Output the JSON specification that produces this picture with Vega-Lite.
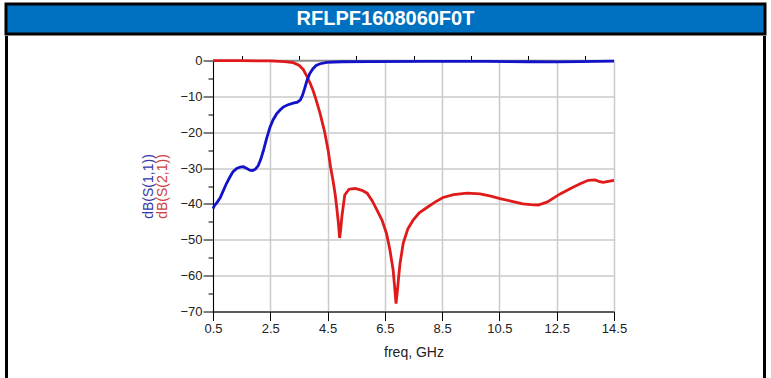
{
  "$schema": "https://vega.github.io/schema/vega-lite/v6.json",
  "padding": {"left": 4, "top": 2, "right": 0, "bottom": 0},
  "background": "white",
  "columns": 1,
  "spacing": 0,
  "align": "none",
  "config": {"view": {"stroke": null}, "font": "Liberation Sans"},
  "datasets": {
    "s21": [
      {"f": 0.5, "db": -0.05}, {"f": 1.0, "db": -0.05}, {"f": 1.5, "db": -0.05}, {"f": 2.0, "db": -0.08},
      {"f": 2.5, "db": -0.12}, {"f": 3.0, "db": -0.3}, {"f": 3.3, "db": -0.6}, {"f": 3.5, "db": -1.3},
      {"f": 3.65, "db": -2.5}, {"f": 3.78, "db": -4.4}, {"f": 3.9, "db": -6.5}, {"f": 4.0, "db": -8.5},
      {"f": 4.1, "db": -11}, {"f": 4.24, "db": -14.8}, {"f": 4.4, "db": -20}, {"f": 4.52, "db": -25},
      {"f": 4.6, "db": -29.5}, {"f": 4.69, "db": -33.5}, {"f": 4.76, "db": -37}, {"f": 4.82, "db": -41},
      {"f": 4.88, "db": -45.5}, {"f": 4.92, "db": -49.5}, {"f": 4.96, "db": -47}, {"f": 5.0, "db": -43.5},
      {"f": 5.1, "db": -37.5}, {"f": 5.25, "db": -35.9}, {"f": 5.46, "db": -35.7}, {"f": 5.7, "db": -36.2},
      {"f": 5.88, "db": -37}, {"f": 6.05, "db": -39}, {"f": 6.23, "db": -41.8}, {"f": 6.4, "db": -44.5},
      {"f": 6.56, "db": -48.3}, {"f": 6.68, "db": -53}, {"f": 6.79, "db": -58.5}, {"f": 6.85, "db": -64},
      {"f": 6.89, "db": -67.8}, {"f": 6.94, "db": -64}, {"f": 6.97, "db": -61.3}, {"f": 7.03, "db": -56.6},
      {"f": 7.14, "db": -51}, {"f": 7.3, "db": -47}, {"f": 7.48, "db": -44.6}, {"f": 7.7, "db": -42.5},
      {"f": 7.97, "db": -41}, {"f": 8.25, "db": -39.5}, {"f": 8.53, "db": -38.2}, {"f": 8.9, "db": -37.4},
      {"f": 9.37, "db": -37}, {"f": 9.82, "db": -37.2}, {"f": 10.2, "db": -37.8}, {"f": 10.52, "db": -38.5},
      {"f": 10.9, "db": -39.2}, {"f": 11.32, "db": -40}, {"f": 11.6, "db": -40.2}, {"f": 11.85, "db": -40.3},
      {"f": 12.16, "db": -39.5}, {"f": 12.4, "db": -38.3}, {"f": 12.62, "db": -37.2}, {"f": 13.0, "db": -35.6},
      {"f": 13.32, "db": -34.4}, {"f": 13.6, "db": -33.4}, {"f": 13.84, "db": -33.3}, {"f": 14.0, "db": -33.8},
      {"f": 14.12, "db": -34}, {"f": 14.3, "db": -33.7}, {"f": 14.5, "db": -33.4}
    ],
    "s11": [
      {"f": 0.5, "db": -41.3}, {"f": 0.55, "db": -40.5}, {"f": 0.65, "db": -39.5}, {"f": 0.75, "db": -38.3},
      {"f": 0.86, "db": -36.3}, {"f": 0.97, "db": -34.3}, {"f": 1.09, "db": -32.5}, {"f": 1.2, "db": -31},
      {"f": 1.33, "db": -30.1}, {"f": 1.45, "db": -29.7}, {"f": 1.56, "db": -29.6}, {"f": 1.68, "db": -30.1},
      {"f": 1.78, "db": -30.6}, {"f": 1.88, "db": -30.7}, {"f": 1.98, "db": -30.3}, {"f": 2.08, "db": -29.3},
      {"f": 2.17, "db": -27.5}, {"f": 2.26, "db": -25.1}, {"f": 2.37, "db": -21.8}, {"f": 2.49, "db": -18.6},
      {"f": 2.6, "db": -16.5}, {"f": 2.72, "db": -14.9}, {"f": 2.84, "db": -13.8}, {"f": 2.95, "db": -13},
      {"f": 3.1, "db": -12.4}, {"f": 3.3, "db": -11.9}, {"f": 3.45, "db": -11.6}, {"f": 3.55, "db": -11},
      {"f": 3.62, "db": -9.8}, {"f": 3.7, "db": -7.8}, {"f": 3.78, "db": -5.6}, {"f": 3.88, "db": -3.6},
      {"f": 3.99, "db": -2.3}, {"f": 4.1, "db": -1.4}, {"f": 4.24, "db": -0.9}, {"f": 4.48, "db": -0.5},
      {"f": 5.0, "db": -0.35}, {"f": 6.0, "db": -0.3}, {"f": 8.0, "db": -0.25}, {"f": 10.0, "db": -0.25},
      {"f": 11.5, "db": -0.35}, {"f": 12.5, "db": -0.4}, {"f": 13.3, "db": -0.3}, {"f": 14.5, "db": -0.2}
    ],
    "ref": [{"db": 0}],
    "blank": [{"a": 1}],
    "head": [{"t": "RFLPF1608060F0T"}]
  },
  "concat": [
    {
      "width": 759,
      "height": 30,
      "view": {"fill": "#0070C0", "stroke": "black", "strokeWidth": 3},
      "data": {"name": "head"},
      "mark": {"type": "text", "color": "white", "font": "Liberation Sans", "fontWeight": "bold", "fontSize": 20},
      "encoding": {"text": {"field": "t", "type": "nominal"}}
    },
    {
      "columns": 2,
      "spacing": 135,
      "align": "none",
      "concat": [
        {
          "columns": 2,
          "spacing": 132,
          "align": "none",
          "concat": [
            {
              "width": 1,
              "height": 342,
              "view": {"fill": "black", "stroke": "black", "strokeWidth": 2},
              "data": {"name": "blank"},
              "mark": {"type": "point", "size": 0, "opacity": 0},
              "encoding": {}
            },
            {
              "columns": 1,
              "spacing": 15.5,
              "align": "none",
              "concat": [
                {
                  "width": 1,
                  "height": 1,
                  "data": {"name": "blank"},
                  "mark": {"type": "point", "size": 0, "opacity": 0},
                  "encoding": {}
                },
                {
                  "width": 401,
                  "height": 251,
                  "view": {"stroke": "black", "strokeWidth": 1},
                  "resolve": {"axis": {"x": "independent", "y": "independent"}},
                  "layer": [
                    {
                      "data": {"name": "ref"},
                      "mark": {"type": "rule", "color": "#8a8a8a", "strokeWidth": 1.5},
                      "encoding": {
                        "y": {
                          "field": "db", "type": "quantitative",
                          "scale": {"domain": [-70, 0], "nice": false, "zero": false},
                          "axis": {"orient": "left", "values": [-5, -15, -25, -35, -45, -55, -65], "tickSize": 5, "tickColor": "black", "labels": false, "domain": false, "grid": false, "title": null, "minExtent": 0}
                        }
                      }
                    },
                    {
                      "data": {"name": "s21"},
                      "mark": {"type": "line", "color": "#E01A1A", "strokeWidth": 2.8},
                      "encoding": {
                        "x": {
                          "field": "f", "type": "quantitative",
                          "scale": {"domain": [0.5, 14.5], "nice": false, "zero": false},
                          "axis": {
                            "values": [0.5, 2.5, 4.5, 6.5, 8.5, 10.5, 12.5, 14.5], "format": ".1f",
                            "title": "freq, GHz", "grid": true, "gridColor": "#CACACA", "gridWidth": 1.5,
                            "tickSize": 9, "tickColor": "black", "domainColor": "black",
                            "labelFontSize": 13, "labelColor": "#222", "labelPadding": 2, "labelFlush": false, "labelOverlap": false,
                            "titleFontSize": 14, "titleFontWeight": "normal", "titleColor": "#222", "titlePadding": 10
                          }
                        },
                        "y": {
                          "field": "db", "type": "quantitative",
                          "scale": {"domain": [-70, 0], "nice": false, "zero": false},
                          "axis": {
                            "orient": "left", "values": [0, -10, -20, -30, -40, -50, -60, -70],
                            "title": "dB(S(2,1))", "titleColor": "#D04040", "titleFontSize": 14, "titleFontWeight": "normal", "titlePadding": 10,
                            "grid": true, "gridColor": "#CACACA", "gridWidth": 1.5,
                            "tickSize": 10, "tickColor": "black", "domainColor": "black",
                            "labelFontSize": 13, "labelColor": "#222", "labelPadding": 1, "labelFlush": false, "labelOverlap": false,
                            "minExtent": 0
                          }
                        }
                      }
                    },
                    {
                      "data": {"name": "s11"},
                      "mark": {"type": "line", "color": "#1212C8", "strokeWidth": 2.8},
                      "encoding": {
                        "x": {
                          "field": "f", "type": "quantitative",
                          "axis": {"values": [1.5, 3.5, 5.5, 7.5, 9.5, 11.5, 13.5], "tickSize": 5, "tickColor": "black", "labels": false, "domain": false, "grid": false, "title": null}
                        },
                        "y": {
                          "field": "db", "type": "quantitative",
                          "axis": {"orient": "left", "labels": false, "ticks": false, "domain": false, "grid": false, "title": "dB(S(1,1))", "titleColor": "#3838A8", "titleFontSize": 14, "titleFontWeight": "normal", "offset": 54, "titlePadding": 4, "minExtent": 0}
                        }
                      }
                    }
                  ]
                }
              ]
            }
          ]
        },
        {
          "width": 1,
          "height": 342,
          "view": {"fill": "black", "stroke": "black", "strokeWidth": 2},
          "data": {"name": "blank"},
          "mark": {"type": "point", "size": 0, "opacity": 0},
          "encoding": {}
        }
      ]
    }
  ]
}
